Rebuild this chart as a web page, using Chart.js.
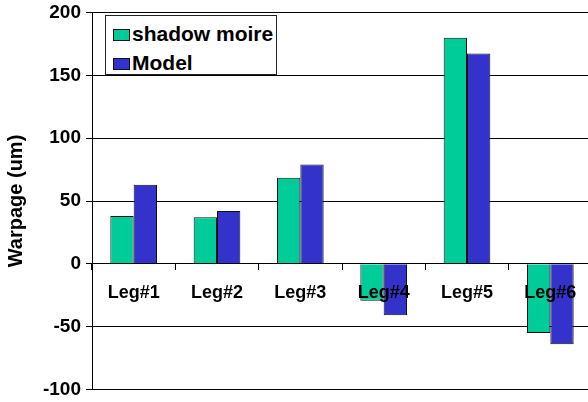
<!DOCTYPE html>
<html>
<head>
<meta charset="utf-8">
<script src="https://cdn.jsdelivr.net/npm/chart.js@4/dist/chart.umd.min.js"></script>
<style>
  html, body { margin: 0; padding: 0; background: #fff; overflow: hidden; }
  #wrap { position: relative; width: 588px; height: 402px; overflow: hidden; }
  #legend {
    position: absolute; left: 105px; top: 15px; width: 170px; height: 58px;
    border: 1px solid #222; background: #fff;
    font: bold 21px Arial, "Liberation Sans", sans-serif; color: #000;
  }
  #legend .row { position: absolute; left: 0; height: 24px; line-height: 24px; white-space: nowrap; }
  #legend .key { position: absolute; left: 7px; top: 7px; width: 15px; height: 10px; border: 1px solid #111; }
  #legend .lbl { position: absolute; left: 26px; top: 0; }
</style>
</head>
<body>
<div id="wrap">
  <canvas id="chart" width="592" height="402"></canvas>
  <div id="legend"></div>
</div>
<script>
const categories = ["Leg#1", "Leg#2", "Leg#3", "Leg#4", "Leg#5", "Leg#6"];
const shadowMoire = [38, 37, 68.5, -29.5, 180, -55];
const model = [63, 42, 79, -41, 167.5, -64];
const yTicks = [-100, -50, 0, 50, 100, 150, 200];

const seriesNames = ["shadow moire", "Model"];
const seriesColors = ["#00CC99", "#3333CC"];

const ctx = document.getElementById("chart").getContext("2d");
const font = "Arial, 'Liberation Sans', sans-serif";

const chart = new Chart(ctx, {
  type: "bar",
  data: {
    labels: categories,
    datasets: [
      {
        label: seriesNames[0],
        data: shadowMoire,
        backgroundColor: seriesColors[0],
        borderColor: "#111",
        borderWidth: 1,
        categoryPercentage: 0.56,
        barPercentage: 1,
      },
      {
        label: seriesNames[1],
        data: model,
        backgroundColor: seriesColors[1],
        borderColor: "#111",
        borderWidth: 1,
        categoryPercentage: 0.56,
        barPercentage: 1,
      },
    ],
  },
  options: {
    responsive: false,
    animation: false,
    layout: { padding: { top: 5, bottom: 6, left: 0, right: 0 } },
    plugins: {
      legend: { display: false },
      tooltip: { enabled: false },
    },
    scales: {
      x: {
        position: { y: 0 },
        offset: true,
        grid: {
          offset: true,
          drawOnChartArea: false,
          drawTicks: true,
          tickLength: 6,
          color: "#000",
        },
        border: { display: true, color: "#000", width: 1 },
        ticks: {
          z: 1, // labels sit on top of the bars, like the original
          padding: 12,
          color: "#000",
          font: { family: font, size: 18, weight: "bold" },
          maxRotation: 0,
          autoSkip: false,
        },
        afterFit: (s) => { s.height = 0; },
      },
      y: {
        min: -100,
        max: 200,
        afterBuildTicks: (s) => { s.ticks = yTicks.map((v) => ({ value: v })); },
        grid: {
          color: "#000",
          tickLength: 6,
          drawTicks: true,
        },
        border: { display: true, color: "#000", width: 1 },
        ticks: {
          padding: 5,
          color: "#000",
          font: { family: font, size: 19, weight: "bold", lineHeight: 0.8 },
        },
        title: {
          display: true,
          text: "Warpage (um)",
          color: "#000",
          font: { family: font, size: 20, weight: "bold" },
          padding: { top: 4, bottom: 0 },
        },
        afterFit: (s) => { s.width = 92; },
      },
    },
  },
});

// legend drawn as html over the plot, built from the datasets
const legend = document.getElementById("legend");
chart.data.datasets.forEach((ds, i) => {
  const row = document.createElement("div");
  row.className = "row";
  row.style.top = (6 + i * 29) + "px";
  row.innerHTML = '<span class="key" style="background:' + ds.backgroundColor + '"></span>' +
    '<span class="lbl">' + ds.label + "</span>";
  legend.appendChild(row);
});
</script>
</body>
</html>
